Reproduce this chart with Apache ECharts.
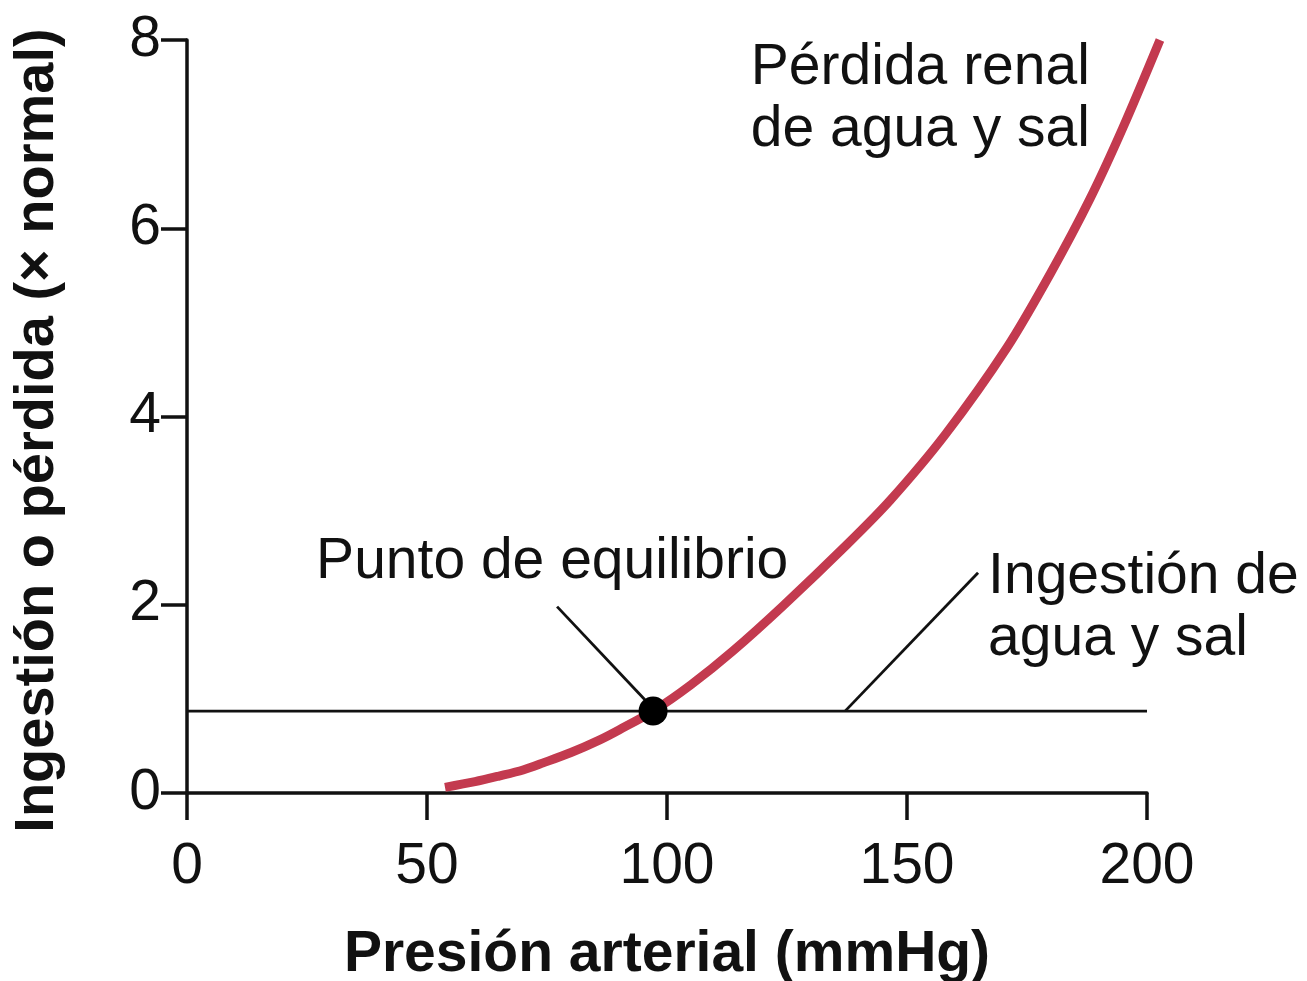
<!DOCTYPE html>
<html>
<head>
<meta charset="utf-8">
<script src="https://cdn.jsdelivr.net/npm/echarts@6/dist/echarts.min.js"></script>
<style>
html,body{margin:0;padding:0;background:#fff;}
#chart{width:1307px;height:981px;}
</style>
</head>
<body>
<div id="chart"></div>
<script>
// ---- data ----
const xAxisTitle = 'Presión arterial (mmHg)';
const yAxisTitle = 'Ingestión o pérdida (× normal)';
const xTicks = [0, 50, 100, 150, 200];
const yTicks = [0, 2, 4, 6, 8];
const pressure  = [53.75, 60, 65, 70, 74.2, 80, 86, 90, 97.1, 105, 113.75, 124.2, 137.5, 146.5, 158, 170.8, 180, 188.1, 195, 202.7];
const renalLoss = [0.06, 0.12, 0.18, 0.245, 0.32, 0.43, 0.565, 0.67, 0.87, 1.15, 1.51, 1.99, 2.64, 3.11, 3.81, 4.73, 5.53, 6.31, 7.07, 8.0];
const intakeX = [0, 200];
const intakeY = [0.87, 0.87];
const equilibrium = [97.1, 0.87];
const leaderEquilibrium = [[77.1, 1.98], [95.4, 0.99]];
const leaderIntake = [[137.1, 0.87], [164.8, 2.34]];
const labels = [
  { text: 'Pérdida renal\nde agua y sal', at: [188.1, 7.375], align: 'right' },
  { text: 'Punto de equilibrio', at: [26.9, 2.455], align: 'left' },
  { text: 'Ingestión de\nagua y sal', at: [166.9, 1.966], align: 'left' }
];

const FONT = '"Liberation Sans", Arial, Helvetica, sans-serif';
const INK = '#111111';
const FS = 57;

const chart = echarts.init(document.getElementById('chart'), null, { renderer: 'canvas' });

// main grid: x 0..200, y 0..8. Overlay grid uses the same px/unit scale but a slightly
// larger range so that the renal-loss curve can run a little past the axis ends.
const xMax = xTicks[xTicks.length - 1], yMax = yTicks[yTicks.length - 1];
const G = { left: 187, right: 160, top: 40, bottom: 188 };
const pxX = (1307 - G.left - G.right) / xMax;
const pxY = (981 - G.top - G.bottom) / yMax;
const xMax2 = 206, yMax2 = 8.3;

const option = {
  backgroundColor: '#ffffff',
  animation: false,
  grid: [
    { left: G.left, right: G.right, top: G.top, bottom: G.bottom, outerBoundsMode: 'none', containLabel: false },
    { left: G.left, right: G.right - (xMax2 - xMax) * pxX, top: G.top - (yMax2 - yMax) * pxY, bottom: G.bottom, outerBoundsMode: 'none', containLabel: false }
  ],
  xAxis: [{
    gridIndex: 0, type: 'value', min: xTicks[0], max: xMax, interval: xTicks[1] - xTicks[0],
    name: xAxisTitle, nameLocation: 'middle', nameGap: 134,
    nameTextStyle: { fontFamily: FONT, fontSize: FS, fontWeight: 'bold', color: INK },
    axisLine: { show: true, onZero: false, lineStyle: { color: INK, width: 3.5 } },
    axisTick: { show: true, inside: false, length: 27, lineStyle: { color: INK, width: 3.5 } },
    axisLabel: { fontFamily: FONT, fontSize: FS, color: INK, margin: 46 },
    splitLine: { show: false }
  }, {
    gridIndex: 1, type: 'value', min: 0, max: xMax2, show: false, splitLine: { show: false }
  }],
  yAxis: [{
    gridIndex: 0, type: 'value', min: yTicks[0], max: yMax, interval: yTicks[1] - yTicks[0],
    name: yAxisTitle, nameLocation: 'middle', nameGap: 121, nameRotate: 90,
    nameTextStyle: { fontFamily: FONT, fontSize: FS - 1, fontWeight: 'bold', color: INK, padding: [0, 28, 0, 0] },
    axisLine: { show: true, onZero: false, lineStyle: { color: INK, width: 3.5 } },
    axisTick: { show: true, inside: false, length: 26, lineStyle: { color: INK, width: 3.5 } },
    axisLabel: { fontFamily: FONT, fontSize: FS, color: INK, margin: 26 },
    splitLine: { show: false }
  }, {
    gridIndex: 1, type: 'value', min: 0, max: yMax2, show: false, splitLine: { show: false }
  }],
  series: [
    {
      name: 'Ingestión de agua y sal', type: 'line', xAxisIndex: 0, yAxisIndex: 0,
      data: intakeX.map((x, i) => [x, intakeY[i]]),
      showSymbol: false, symbol: 'none',
      lineStyle: { color: INK, width: 2.8 }, z: 2
    },
    {
      name: 'Pérdida renal de agua y sal', type: 'line', xAxisIndex: 1, yAxisIndex: 1,
      data: pressure.map((x, i) => [x, renalLoss[i]]),
      smooth: 0.3, showSymbol: false, symbol: 'none',
      lineStyle: { color: '#c33a4f', width: 9, cap: 'butt' }, z: 3
    },
    {
      type: 'line', xAxisIndex: 0, yAxisIndex: 0, data: leaderEquilibrium, symbol: 'none',
      lineStyle: { color: INK, width: 2.8 }, z: 2
    },
    {
      type: 'line', xAxisIndex: 0, yAxisIndex: 0, data: leaderIntake, symbol: 'none',
      lineStyle: { color: INK, width: 2.8 }, z: 2
    },
    {
      name: 'Punto de equilibrio', type: 'scatter', xAxisIndex: 0, yAxisIndex: 0,
      data: [equilibrium], symbol: 'circle', symbolSize: 29,
      itemStyle: { color: '#000', opacity: 1 }, z: 5
    }
  ]
};
chart.setOption(option);

const graphics = labels.map(l => {
  const p = chart.convertToPixel({ gridIndex: 0 }, l.at);
  return {
    type: 'text', x: p[0], y: p[1], z: 10,
    style: {
      text: l.text, fontFamily: FONT, fontSize: FS, fill: INK,
      align: l.align, verticalAlign: 'middle', lineHeight: 62
    }
  };
});
chart.setOption({ graphic: graphics });
</script>
</body>
</html>
